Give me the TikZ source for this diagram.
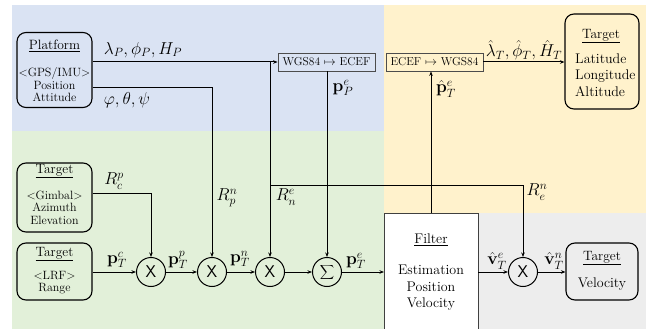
\documentclass[tikz,border=0pt]{standalone}
\usetikzlibrary{arrows.meta,calc}
\definecolor{bgblue}{HTML}{DAE3F3}
\definecolor{bggreen}{HTML}{E2F0D9}
\definecolor{bgyellow}{HTML}{FFF2CC}
\definecolor{bggray}{HTML}{EDEDED}
\newcommand{\myttl}{\fontsize{13.5}{15}\selectfont}
\newcommand{\mysm}{\fontsize{12}{12.5}\selectfont}
\newcommand{\mymid}{\fontsize{14}{16.5}\selectfont}
\tikzset{
  rbox/.style={draw=black, line width=1.1pt, rounded corners=9pt, inner sep=0pt},
  boxtext/.style={align=center, inner sep=0pt},
  convbox/.style={draw=black!70, line width=0.8pt, inner sep=0pt, minimum height=18pt, font=\fontsize{11.5}{12}\selectfont},
  opnode/.style={draw=black, line width=1pt, circle, minimum size=29pt, inner sep=0pt},
  conn/.style={line width=1pt, -{Stealth[length=4.5pt,width=3.5pt]}},
  plain/.style={line width=1pt},
  lbl/.style={font=\fontsize{17}{17}\selectfont, inner sep=0pt},
}
\begin{document}
\begin{tikzpicture}[x=1pt,y=-1pt]
\useasboundingbox (0,0) rectangle (646,329);
% backgrounds
\fill[bgblue] (12,5) rectangle (384,131);
\fill[bggreen] (12,131) rectangle (384,329);
\fill[bgyellow] (384,5) rectangle (646,213);
\fill[bggray] (478,213) rectangle (646,329);
\fill[white] (384,213) rectangle (478,329);
\draw[black!75, line width=0.8pt] (384,329) -- (384,213) -- (478,213) -- (478,329);
\node[boxtext, font=\mymid] (filtt) at (431,240) {\underline{Filter}};
\node[boxtext, font=\mymid] (filtc) at (431,288) {Estimation\\Position\\Velocity};
\coordinate (ftop) at (431,213);
\coordinate (fleft) at (384,272);
\coordinate (fright) at (478,272);

% left boxes
\node[rbox, minimum width=75pt, minimum height=75pt] (plat) at (54.5,70) {};
\node[boxtext, font=\myttl] (platt) at (54.5,46) {\underline{Platform}};
\node[boxtext, font=\mysm] (platc) at (54.5,85) {\textless GPS/IMU\textgreater\\Position\\Attitude};
\node[rbox, minimum width=75pt, minimum height=69pt] (gimb) at (54.5,197.5) {};
\node[boxtext, font=\myttl] (gimbt) at (54.5,171) {\underline{Target}};
\node[boxtext, font=\mysm] (gimbc) at (54.5,207.5) {\textless Gimbal\textgreater\\Azimuth\\Elevation};
\node[rbox, minimum width=75pt, minimum height=57pt] (lrf) at (54.5,271.5) {};
\node[boxtext, font=\myttl] (lrft) at (54.5,254) {\underline{Target}};
\node[boxtext, font=\mysm] (lrfc) at (54.5,282.5) {\textless LRF\textgreater\\Range};

% right boxes
\node[rbox, minimum width=74pt, minimum height=95pt] (tpos) at (602,61.5) {};
\node[boxtext, font=\myttl] (tpost) at (601,36) {\underline{Target}};
\node[align=left, inner sep=0pt, anchor=west, font=\mymid] (tposc) at (575,75) {Latitude\\Longitude\\Altitude};
\node[rbox, minimum width=72pt, minimum height=57pt] (tvel) at (602,271.5) {};
\node[boxtext, font=\myttl] (tvelt) at (602,258) {\underline{Target}};
\node[boxtext, font=\mymid] (tvelc) at (602,284) {Velocity};

% conversion boxes
\node[convbox, minimum width=97pt] (w2e) at (326.5,62) {WGS84 $\mapsto$ ECEF};
\node[convbox, minimum width=97pt] (e2w) at (434.5,62) {ECEF $\mapsto$ WGS84};

% operators
\node[opnode] (m1) at (151,272) {\fontsize{17}{17}\selectfont\sffamily X};
\node[opnode] (m2) at (212,272) {\fontsize{17}{17}\selectfont\sffamily X};
\node[opnode] (m3) at (270,272) {\fontsize{17}{17}\selectfont\sffamily X};
\node[opnode] (sig) at (327,272) {\fontsize{13}{13}\selectfont$\displaystyle\sum$};
\node[opnode] (m4) at (523,272) {\fontsize{17}{17}\selectfont\sffamily X};

% junctions
\coordinate (j1) at (270,62);
\coordinate (j2) at (212,88);
\coordinate (j3) at (270,185);
\coordinate (j4) at (523,185);
\coordinate (j5) at (151,193);

% connectors
\draw[conn] (plat.east |- j1) -- (w2e.west);
\draw[plain] (j1) -- (j3);
\draw[conn] (j3) -- (m3.north);
\draw[conn] (j3) -- (j4) -- (m4.north);
\draw[conn] (plat.east |- j2) -- (j2) -- (m2.north);
\draw[conn] (gimb.east |- j5) -- (j5) -- (m1.north);
\draw[conn] (w2e.south -| sig.north) -- (sig.north);
\draw[conn] (lrf.east |- m1.west) -- (m1.west);
\draw[conn] (m1.east) -- (m2.west);
\draw[conn] (m2.east) -- (m3.west);
\draw[conn] (m3.east) -- (sig.west);
\draw[conn] (sig.east) -- (fleft);
\draw[conn] (ftop) -- (e2w.south -| ftop);
\draw[conn] (e2w.east) -- (tpos.west |- e2w.east);
\draw[conn] (fright) -- (m4.west);
\draw[conn] (m4.east) -- (tvel.west |- m4.east);

% labels
\node[lbl] (l1) at (143,50) {$\lambda_P,\phi_P,H_P$};
\node[lbl] (l2) at (127,100) {$\varphi,\theta,\psi$};
\node[lbl] (l3) at (114,181) {$R_c^p$};
\node[lbl] (l4) at (117,260) {$\mathbf{p}_T^c$};
\node[lbl] (l5) at (178,260) {$\mathbf{p}_T^p$};
\node[lbl] (l6) at (227,198) {$R_p^n$};
\node[lbl] (l7) at (240,259) {$\mathbf{p}_T^n$};
\node[lbl] (l8) at (286,197) {$R_n^e$};
\node[lbl] (l9) at (343,88) {$\mathbf{p}_P^e$};
\node[lbl] (l10) at (356,261) {$\mathbf{p}_T^e$};
\node[lbl] (l11) at (446,89) {$\hat{\mathbf{p}}_T^e$};
\node[lbl] (l12) at (524,50) {$\hat{\lambda}_T,\hat{\phi}_T,\hat{H}_T$};
\node[lbl] (l13) at (537,192) {$R_e^n$};
\node[lbl] (l14) at (497,261) {$\hat{\mathbf{v}}_T^e$};
\node[lbl] (l15) at (554,261) {$\hat{\mathbf{v}}_T^n$};
\end{tikzpicture}
\end{document}
